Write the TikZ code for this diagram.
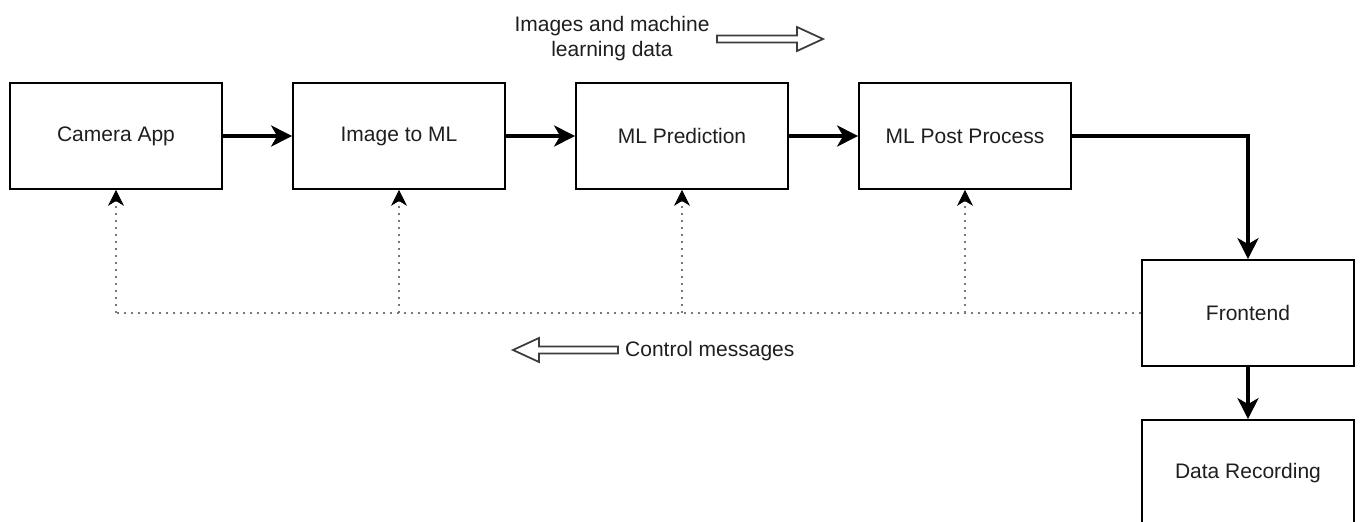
\documentclass[tikz,border=0pt]{standalone}
\usepackage{fontspec}
\setmainfont{Liberation Sans}
\usetikzlibrary{arrows.meta}
\begin{document}
\begin{tikzpicture}[x=1pt,y=-1pt,
  box/.style={draw=black, line width=1.76pt, minimum width=212pt, minimum height=106pt, inner sep=0pt, font=\fontsize{21}{25}\selectfont, text={rgb,255:red,30;green,30;blue,30}},
  flow/.style={line width=3.5pt, -{Stealth[length=21pt,width=21pt,inset=6pt]}},
  ctrl/.style={draw={rgb,255:red,120;green,120;blue,120}, line width=1.9pt, dash pattern=on 1.9pt off 5.1pt, -{Stealth[length=16pt,width=16pt,inset=5pt,color=black,fill=black,line width=0.8pt]}},
  ctrlline/.style={draw={rgb,255:red,120;green,120;blue,120}, line width=1.9pt, dash pattern=on 1.9pt off 5.1pt},
  bigarrow/.style={draw={rgb,255:red,60;green,60;blue,60}, fill=white, line width=1.76pt, line join=miter},
  lbl/.style={font=\fontsize{21}{25}\selectfont, inner sep=0pt, align=center, text={rgb,255:red,30;green,30;blue,30}}
]
\useasboundingbox (0,0) rectangle (1361,522);

\node[box] (cam) at (116,136) {Camera App};
\node[box] (img) at (399,136) {Image to ML};
\node[box] (pred) at (682,136) {ML Prediction};
\node[box] (post) at (965,136) {ML Post Process};
\node[box] (front) at (1248,313) {Frontend};
\node[box] (rec) at (1248,473) {Data Recording};

\draw[flow] (cam) -- (img);
\draw[flow] (img) -- (pred);
\draw[flow] (pred) -- (post);
\draw[flow] (post.east) -| (front.north);
\draw[flow] (front) -- (rec);

\coordinate (c1) at (cam.south |- front.west);
\coordinate (c2) at (img.south |- front.west);
\coordinate (c3) at (pred.south |- front.west);
\coordinate (c4) at (post.south |- front.west);
\draw[ctrlline] (front.west) -- (c1);
\draw[ctrl] (c1) -- (cam.south);
\draw[ctrl] (c2) -- (img.south);
\draw[ctrl] (c3) -- (pred.south);
\draw[ctrl] (c4) -- (post.south);

\node[lbl] (datalbl) at (612,39) {Images and machine\\learning data};
\draw[bigarrow] (717,35.5) -- (797,35.5) -- (797,27) -- (823,39) -- (797,51) -- (797,42.5) -- (717,42.5) -- cycle;

\node[lbl, anchor=west] (ctrllbl) at (625,351) {Control messages};
\draw[bigarrow] (618,346.5) -- (539,346.5) -- (539,338) -- (513,350) -- (539,362) -- (539,353.5) -- (618,353.5) -- cycle;
\end{tikzpicture}
\end{document}
